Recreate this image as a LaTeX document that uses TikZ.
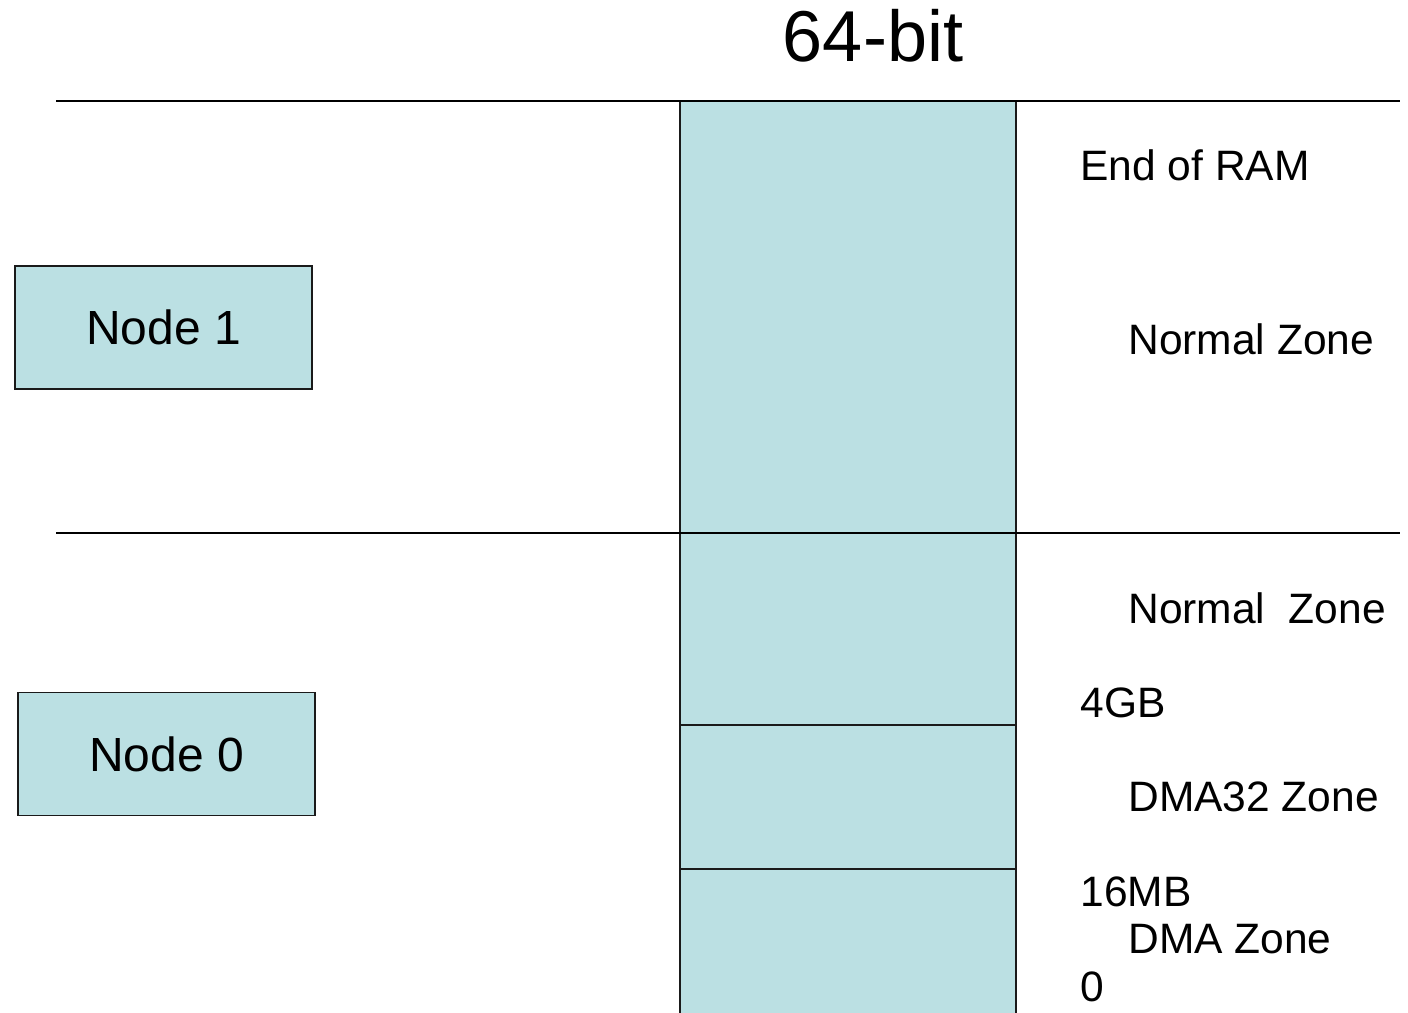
\documentclass[tikz,border=0pt]{standalone}
\usepackage{fontspec}
\setmainfont{Liberation Sans}
\usetikzlibrary{positioning}
\definecolor{zoneFill}{HTML}{bbe0e3}
\definecolor{zoneLine}{HTML}{1a1a1a}

\begin{document}
\begin{tikzpicture}[x=0.02cm, y=-0.02cm,
  zone/.style={draw=zoneLine, fill=zoneFill, line width=1pt, inner sep=0pt, minimum width=6.72cm, outer sep=0pt},
  nodebox/.style={draw=zoneLine, fill=zoneFill, line width=1pt, minimum width=5.94cm, minimum height=2.46cm, font=\fontsize{27.3}{31}\selectfont},
  lbl/.style={anchor=base west, inner sep=0pt, font=\fontsize{24.2}{28}\selectfont},
  sep/.style={line width=1pt}]
\useasboundingbox (0,0) rectangle (1408,1012);
% title
\node[anchor=base, inner sep=0pt, font=\fontsize{41}{47}\selectfont] (title) at (873,61) {64-bit};
% memory column
\node[zone, minimum height=8.64cm, anchor=north west] (n1zone) at (680,101) {};
\node[zone, minimum height=3.84cm, below=0pt of n1zone] (n0normal) {};
\node[zone, minimum height=2.88cm, below=0pt of n0normal] (dma32) {};
\node[zone, minimum height=3.0cm, below=0pt of dma32] (dma) {};
% node separators
\coordinate (topL) at (56,101); \coordinate (topR) at (1400,101);
\coordinate (midL) at (56,533); \coordinate (midR) at (1400,533);
\draw[sep] (topL) -- (topR);
\draw[sep] (midL) -- (midR);
% nodes
\node[nodebox] (node1) at (163.5,327.5) {Node 1};
\node[nodebox] (node0) at (166.5,754) {Node 0};
% labels
\node[lbl] (endram) at (1080,180) {End of RAM};
\node[lbl] (normal1) at (1128,354) {Normal Zone};
\node[lbl] (normal0) at (1128,623) {Normal~~Zone};
\node[lbl] (gb4) at (1080,717) {4GB};
\node[lbl] (dma32lbl) at (1128,811) {DMA32 Zone};
\node[lbl] (mb16) at (1080,906) {16MB};
\node[lbl] (dmalbl) at (1128,953) {DMA Zone};
\node[lbl] (zero) at (1080,1001) {0};
\end{tikzpicture}
\end{document}
